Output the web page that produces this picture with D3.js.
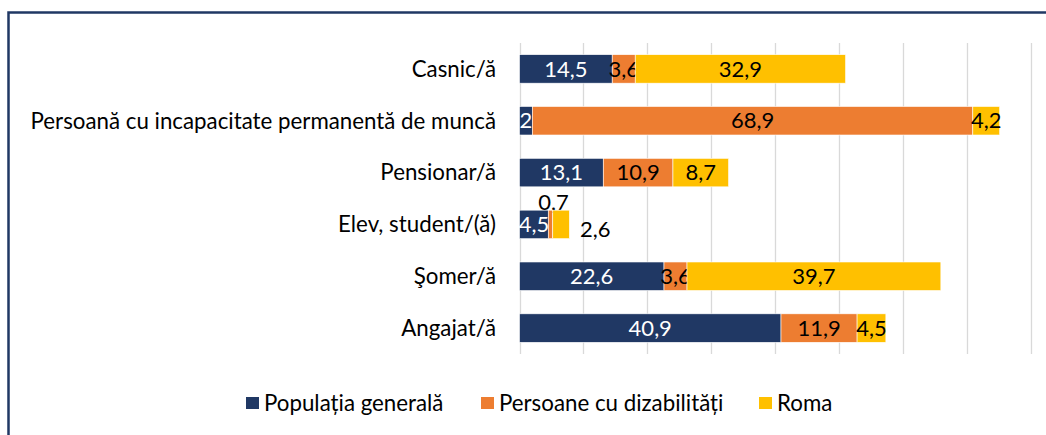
<!doctype html>
<html>
<head>
    <meta charset="utf-8">
    <style>
        body { margin: 0; background: #fff; }
        svg { display: block; font-family: Lato, "Open Sans", sans-serif; }
        .grid line { stroke: #d9d9d9; stroke-width: 1.3; }
        .cat { font-size: 22.3px; fill: #000; }
        .val { font-size: 22px; }
        .legend text { font-size: 22.3px; fill: #000; }
    </style>
</head>
<body>
    <svg id="chart"></svg>
    <script src="https://cdnjs.cloudflare.com/ajax/libs/d3/7.8.5/d3.min.js"></script>
    <script>
        var categories = ['Casnic/ă', 'Persoană cu incapacitate permanentă de muncă', 'Pensionar/ă',
            'Elev, student/(ă)', 'Şomer/ă', 'Angajat/ă'];
        var populatieGenerala = [14.5, 2, 13.1, 4.5, 22.6, 40.9];
        var persoaneDizabilitati = [3.6, 68.9, 10.9, 0.7, 3.6, 11.9];
        var roma = [32.9, 4.2, 8.7, 2.6, 39.7, 4.5];
        var seriesNames = ['Populația generală', 'Persoane cu dizabilități', 'Roma'];
        var gridTicks = [0, 10, 20, 30, 40, 50, 60, 70, 80];

        var width = 1046, height = 435;
        var colors = ['#203864', '#ed7d31', '#ffc000'];
        var textColors = ['#fff', '#000', '#000'];

        var svg = d3.select('#chart').attr('width', width).attr('height', height);

        // outer frame (only left + top visible)
        svg.append('path')
            .attr('d', 'M8.5,' + height + 'V12.5H' + width)
            .attr('fill', 'none')
            .attr('stroke', '#203864')
            .attr('stroke-width', 2.5);

        var x = d3.scaleLinear().domain([0, 80]).range([519.5, 1031]);
        var y = d3.scaleBand().domain(categories).range([43, 354]).paddingInner(0.45).paddingOuter(0.225);

        svg.append('g').attr('class', 'grid')
            .selectAll('line').data(gridTicks).enter().append('line')
            .attr('x1', function(d) { return Math.round(x(d)) + 0.5; })
            .attr('x2', function(d) { return Math.round(x(d)) + 0.5; })
            .attr('y1', 43).attr('y2', 354);

        var rows = categories.map(function(c, i) {
            return { cat: c, values: [populatieGenerala[i], persoaneDizabilitati[i], roma[i]] };
        });
        var stack = d3.stack().keys([0, 1, 2]).value(function(d, k) { return d.values[k]; });
        var layers = stack(rows);

        var layer = svg.append('g').selectAll('g').data(layers).enter().append('g')
            .attr('fill', function(d) { return colors[d.key]; });

        layer.selectAll('rect').data(function(d) { return d; }).enter().append('rect')
            .attr('x', function(d) { return x(d[0]); })
            .attr('width', function(d) { return x(d[1]) - x(d[0]); })
            .attr('y', function(d) { return y(d.data.cat); })
            .attr('height', y.bandwidth())
            .attr('stroke', '#fff')
            .attr('stroke-width', 0.6);

        // value labels (the thin Elev row gets its labels pushed outside)
        var small = 'Elev, student/(ă)';
        layer.each(function(L) {
            var k = L.key;
            d3.select(this).selectAll('text').data(L).enter().append('text')
                .attr('class', 'val')
                .attr('text-anchor', 'middle')
                .attr('dy', '0.35em')
                .attr('fill', function(d) {
                    return (d.data.cat === small && k > 0) ? '#000' : textColors[k];
                })
                .attr('x', function(d) {
                    var cx = (x(d[0]) + x(d[1])) / 2;
                    if (d.data.cat === small && k === 1) cx += 3;
                    if (d.data.cat === small && k === 2) cx = x(d[1]) + 26;
                    return cx;
                })
                .attr('y', function(d) {
                    var cy = y(d.data.cat) + y.bandwidth() / 2;
                    if (d.data.cat === small && k === 1) cy -= 22;
                    if (d.data.cat === small && k === 2) cy += 4.5;
                    return cy;
                })
                .text(function(d) { return String(d.data.values[k]).replace('.', ','); });
        });

        // category labels
        svg.append('g').selectAll('text').data(categories).enter().append('text')
            .attr('class', 'cat')
            .attr('x', 496)
            .attr('y', function(d) { return y(d) + y.bandwidth() / 2; })
            .attr('dy', '0.35em')
            .attr('text-anchor', 'end')
            .text(function(d) { return d; });

        // legend
        var legendX = [246, 481, 759];
        var legend = svg.append('g').attr('class', 'legend')
            .selectAll('g').data(seriesNames).enter().append('g')
            .attr('transform', function(d, i) { return 'translate(' + legendX[i] + ',397)'; });
        legend.append('rect').attr('width', 13).attr('height', 12)
            .attr('fill', function(d, i) { return colors[i]; });
        legend.append('text').attr('x', 18).attr('y', 6).attr('dy', '0.35em')
            .text(function(d) { return d; });
    </script>
</body>
</html>
